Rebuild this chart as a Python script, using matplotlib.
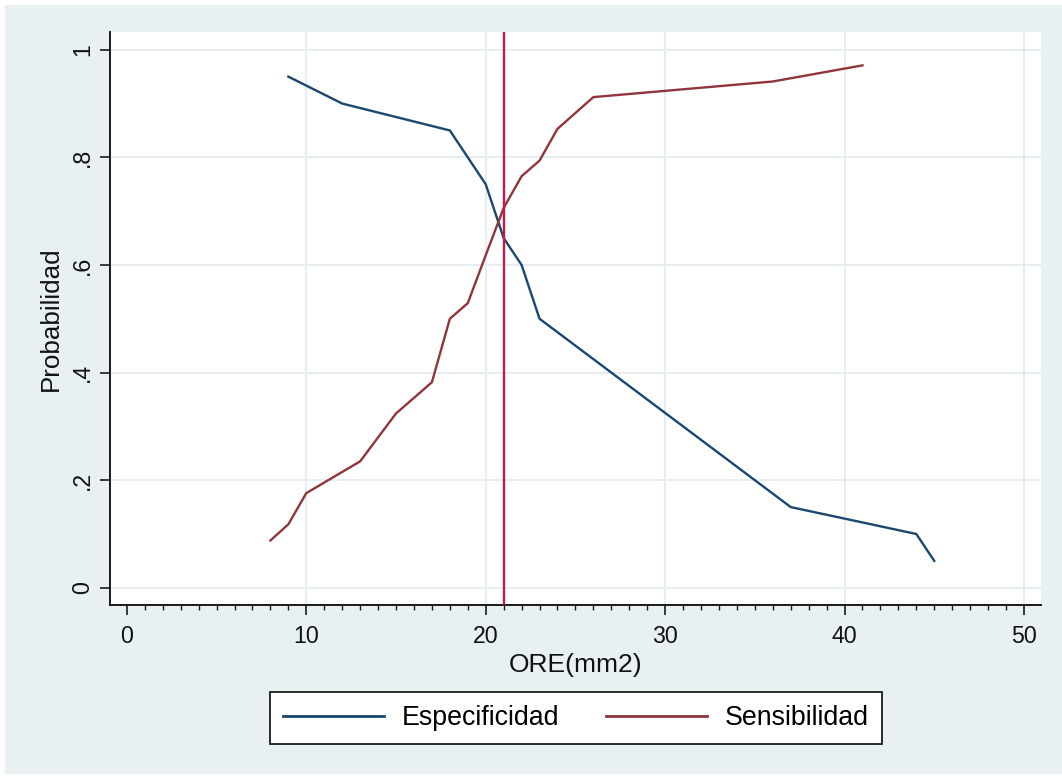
import matplotlib
matplotlib.use("Agg")
import matplotlib.pyplot as plt
from matplotlib.patches import Rectangle
from matplotlib.ticker import MultipleLocator

# ORE (mm2) cut points and the specificity / sensitivity at each one
spec_x = [9, 12, 18, 20, 21, 22, 23, 37, 44, 45]
spec_y = [0.95, 0.90, 0.85, 0.75, 0.65, 0.60, 0.50, 0.15, 0.10, 0.05]

sens_x = [8, 9, 10, 13, 15, 17, 18, 19, 20, 21, 22, 23, 24, 26, 36, 41]
sens_y = [0.088, 0.118, 0.176, 0.235, 0.324, 0.382, 0.500, 0.529,
          0.618, 0.706, 0.765, 0.794, 0.853, 0.912, 0.941, 0.971]

cutoff = 21

x_ticks = [0, 10, 20, 30, 40, 50]
x_grid = [10, 20, 30, 40, 50]
y_ticks = [0, 0.2, 0.4, 0.6, 0.8, 1.0]
y_tick_labels = ["0", ".2", ".4", ".6", ".8", "1"]

plt.rcParams["font.family"] = ["Liberation Sans", "DejaVu Sans"]

W, H = 1062, 776
fig = plt.figure(figsize=(W / 100, H / 100), dpi=100, facecolor="white")

# light graph region behind the plot
fig.patches.append(Rectangle((5 / W, 2 / H), (W - 5) / W, (H - 7) / H,
                             transform=fig.transFigure, facecolor="#E8F0F2",
                             edgecolor="none", zorder=-10))

ax = fig.add_axes([109.5 / W, 1 - 605 / H, (1041 - 109.5) / W, (605 - 32) / H])
ax.set_facecolor("white")

grid_col = "#E6EEF1"
for gx in x_grid:
    ax.axvline(gx, color=grid_col, lw=1.4, zorder=1)
for gy in y_ticks:
    ax.axhline(gy, color=grid_col, lw=1.4, zorder=1)

ax.plot(spec_x, spec_y, color="#1A476F", lw=1.7, label="Especificidad", zorder=3)
ax.plot(sens_x, sens_y, color="#90353B", lw=1.7, label="Sensibilidad", zorder=3)
ax.axvline(cutoff, color="#C8174C", lw=1.7, zorder=4)

ax.set_xlim(-0.97, 50.95)
ax.set_ylim(-0.032, 1.033)

for side in ("top", "right"):
    ax.spines[side].set_visible(False)
for side in ("left", "bottom"):
    ax.spines[side].set_color("#1a1a1a")
    ax.spines[side].set_linewidth(1.4)

ax.set_xticks(x_ticks)
ax.xaxis.set_minor_locator(MultipleLocator(1))
ax.set_yticks(y_ticks)
ax.set_yticklabels(y_tick_labels, rotation=90, va="center")

ax.tick_params(axis="x", which="major", length=7.2, width=1.2, pad=7,
               labelsize=16.7, color="#1a1a1a", labelcolor="#111111")
ax.tick_params(axis="x", which="minor", length=3.6, width=1.0, color="#1a1a1a")
ax.tick_params(axis="y", which="major", length=7, width=1.2, pad=4,
               labelsize=16.7, color="#1a1a1a", labelcolor="#111111")

ax.set_xlabel("ORE(mm2)", fontsize=19, color="#111111", va="top")
ax.xaxis.set_label_coords(0.5, -0.0838)
ax.set_ylabel("Probabilidad", fontsize=18.7, color="#111111")
ax.yaxis.set_label_coords(-0.0505, 0.5)

leg = fig.legend(loc="center", bbox_to_anchor=(576 / W, 1 - 718 / H),
                 ncol=2, fontsize=19.3, frameon=True, fancybox=False,
                 handlelength=3.75, handletextpad=0.68, columnspacing=1.74,
                 borderpad=0.5)
frame = leg.get_frame()
frame.set_edgecolor("#1a1a1a")
frame.set_linewidth(1.3)
frame.set_facecolor("white")
frame.set_alpha(1)
for h in leg.legend_handles:
    h.set_linewidth(2.0)

fig.savefig("out.png", dpi=100, facecolor=fig.get_facecolor())
